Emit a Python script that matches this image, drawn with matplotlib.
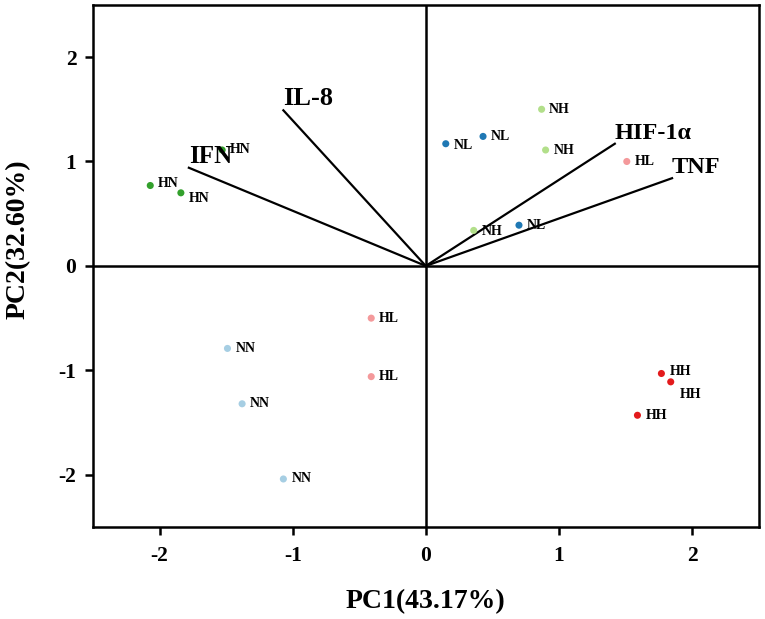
import matplotlib
matplotlib.use("Agg")
import matplotlib.pyplot as plt

plt.rcParams['font.family'] = ['Liberation Serif', 'DejaVu Serif']
plt.rcParams['font.weight'] = 'bold'
plt.rcParams['axes.unicode_minus'] = False

# sample scores
groups = ['HN', 'HN', 'HN', 'NL', 'NL', 'NL', 'NH', 'NH', 'NH', 'HL', 'HL', 'HL',
          'NN', 'NN', 'NN', 'HH', 'HH', 'HH']
pc1 = [-2.07, -1.84, -1.53, 0.15, 0.43, 0.70, 0.87, 0.90, 0.36, 1.51, -0.41, -0.41,
       -1.49, -1.38, -1.07, 1.77, 1.84, 1.59]
pc2 = [0.77, 0.70, 1.11, 1.17, 1.24, 0.39, 1.50, 1.11, 0.34, 1.00, -0.50, -1.06,
       -0.79, -1.32, -2.04, -1.03, -1.11, -1.43]
group_colors = {'HN': '#33a02c', 'NL': '#1f78b4', 'NH': '#b2df8a',
                'HL': '#f4999b', 'NN': '#a6cee3', 'HH': '#e31a1c'}

# loadings
variables = ['IL-8', 'IFN', 'HIF-1α', 'TNF']
load1 = [-1.07, -1.78, 1.42, 1.85]
load2 = [1.49, 0.94, 1.17, 0.84]
var_sizes = [19, 18, 17.5, 17.5]

# label offsets (pixels)
label_dx = [8, 8, 8, 8, 8, 8, 7, 8, 8, 8, 8, 8, 8, 8, 8, 8, 9, 8]
label_dy = [2, -6, 0, -2, 0, 0, 0, -1, -1, 0, 0, 0, 0, 0, 0, 2, -13, 0]

fig = plt.figure(figsize=(7.65, 6.19), dpi=100)
ax = fig.add_axes([0.1216, 0.1486, 0.870, 0.8436])

ax.axhline(0, color='black', lw=1.8, zorder=1)
ax.axvline(0, color='black', lw=1.8, zorder=1)

for name, x, y, fs in zip(variables, load1, load2, var_sizes):
    ax.plot([0, x], [0, y], color='black', lw=1.6, zorder=2)
    ax.text(x, y, name, ha='left', va='bottom', fontsize=fs, fontweight='bold', zorder=4)

cols = [group_colors[g] for g in groups]
ax.scatter(pc1, pc2, c=cols, s=26, zorder=3, edgecolors='none')
for g, x, y, dx, dy in zip(groups, pc1, pc2, label_dx, label_dy):
    ax.annotate(g, (x, y), xytext=(dx, dy), textcoords='offset pixels',
                ha='left', va='center', fontsize=10, fontweight='bold', zorder=4)

ax.set_xlim(-2.5, 2.5)
ax.set_ylim(-2.5, 2.5)
ax.set_xticks([-2, -1, 0, 1, 2])
ax.set_yticks([-2, -1, 0, 1, 2])
ax.tick_params(direction='out', length=6, width=1.8, labelsize=15.5)
ax.tick_params(axis='x', pad=8)
ax.tick_params(axis='y', pad=6)
for lab in ax.get_xticklabels() + ax.get_yticklabels():
    lab.set_fontweight('bold')
for sp in ax.spines.values():
    sp.set_linewidth(1.8)

ax.set_xlabel('PC1(43.17%)', fontsize=20, fontweight='bold', labelpad=16)
ax.set_ylabel('PC2(32.60%)', fontsize=20, fontweight='bold')
ax.yaxis.set_label_coords(-0.093, 0.552)

fig.savefig('out.png', dpi=100)
